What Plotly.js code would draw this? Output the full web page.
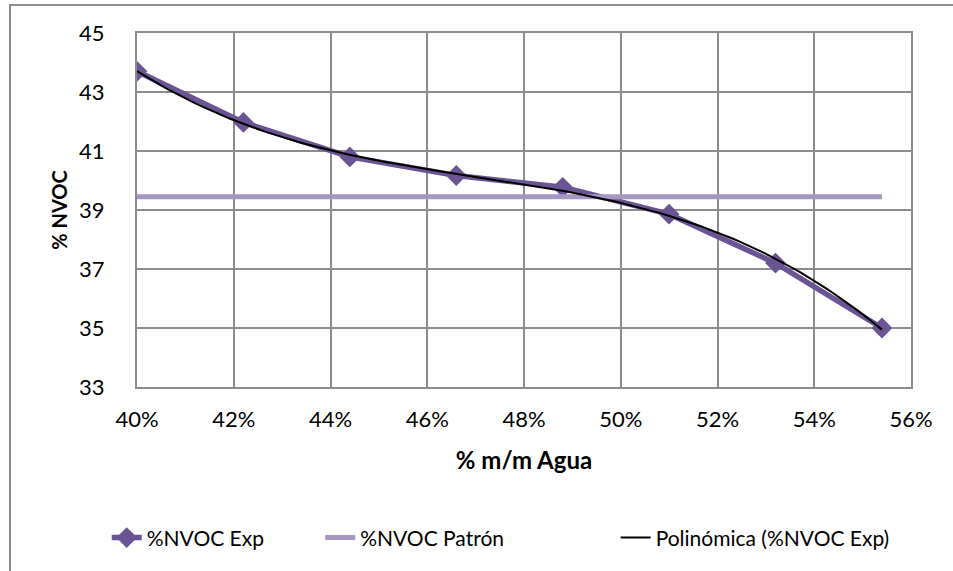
<!DOCTYPE html>
<html>
<head>
<meta charset="utf-8">
<script src="https://cdn.plot.ly/plotly-3.0.1.min.js"></script>
<style>
  html, body { margin: 0; padding: 0; background: #fff; overflow: hidden; }
  #frame { position: absolute; left: 9px; top: 4px; width: 1000px; height: 600px;
           border-left: 2px solid #8c8c8c; border-top: 2px solid #8c8c8c; pointer-events: none; }
  #chart { width: 953px; height: 571px; }
</style>
</head>
<body>
<div id="chart"></div>
<div id="frame"></div>
<script>
// Water content (mass fraction) and measured %NVOC
const aguaFrac = [0.400, 0.422, 0.444, 0.466, 0.488, 0.510, 0.532, 0.554];
const nvocExp  = [43.70, 41.97, 40.80, 40.17, 39.77, 38.86, 37.20, 35.00];
// Reference (standard) %NVOC value
const nvocPatron = 39.45;
const polyOrder = 3;

// Least-squares polynomial fit of the experimental series
function polyFit(xs, ys, order) {
  const n = order + 1;
  const A = Array.from({length: n}, () => new Array(n + 1).fill(0));
  for (let k = 0; k < xs.length; k++) {
    const pw = [];
    for (let i = 0; i < 2 * n; i++) pw.push(Math.pow(xs[k], i));
    for (let r = 0; r < n; r++) {
      for (let c = 0; c < n; c++) A[r][c] += pw[r + c];
      A[r][n] += ys[k] * pw[r];
    }
  }
  for (let i = 0; i < n; i++) {
    let p = i;
    for (let r = i + 1; r < n; r++) if (Math.abs(A[r][i]) > Math.abs(A[p][i])) p = r;
    [A[i], A[p]] = [A[p], A[i]];
    for (let r = 0; r < n; r++) {
      if (r === i) continue;
      const f = A[r][i] / A[i][i];
      for (let c = i; c <= n; c++) A[r][c] -= f * A[i][c];
    }
  }
  return A.map((row, i) => row[n] / row[i]);
}
const xMean = 0.477;
const coef = polyFit(aguaFrac.map(v => v - xMean), nvocExp, polyOrder);
const fitX = [], fitY = [];
const x0 = aguaFrac[0], x1 = aguaFrac[aguaFrac.length - 1];
for (let i = 0; i <= 120; i++) {
  const x = x0 + (x1 - x0) * i / 120;
  let y = 0;
  coef.forEach((c, j) => { y += c * Math.pow(x - xMean, j); });
  fitX.push(x); fitY.push(y);
}

const font = 'Lato, "Open Sans", "Liberation Sans", sans-serif';

const traces = [
  {
    x: aguaFrac, y: nvocExp, name: '%NVOC Exp', type: 'scatter', mode: 'lines+markers',
    line: {color: '#6a5493', width: 5.5},
    marker: {symbol: 'diamond', size: 16, color: '#6a5493'},
    legend: 'legend'
  },
  {
    x: [0.400, 0.554], y: [nvocPatron, nvocPatron], name: '%NVOC Patrón', type: 'scatter', mode: 'lines',
    line: {color: '#a596c2', width: 5},
    legend: 'legend2'
  },
  {
    x: fitX, y: fitY, name: 'Polinómica (%NVOC Exp)', type: 'scatter', mode: 'lines',
    line: {color: '#000000', width: 2},
    legend: 'legend3'
  }
];

function legendAt(xFrac) {
  return {orientation: 'h', xref: 'container', yref: 'container',
          x: xFrac, xanchor: 'left', y: 0.058, yanchor: 'middle',
          font: {family: font, size: 21}, bgcolor: 'rgba(0,0,0,0)'};
}

const layout = {
  width: 953, height: 571,
  margin: {l: 137, r: 42, t: 33, b: 184, autoexpand: false},
  paper_bgcolor: '#ffffff', plot_bgcolor: '#ffffff',
  font: {family: font, size: 21, color: '#000'},
  showlegend: true,
  legend: legendAt(0.112),
  legend2: legendAt(0.336),
  legend3: legendAt(0.646),
  xaxis: {
    range: [0.40, 0.56], dtick: 0.02, tick0: 0.40, tickformat: '.0%',
    showgrid: true, gridcolor: '#8c8c8c', gridwidth: 2,
    showline: true, linecolor: '#8c8c8c', linewidth: 2, mirror: true,
    zeroline: false, ticks: '', ticklabelstandoff: 12,
    tickfont: {family: font, size: 22},
    title: {text: '<b>% m/m Agua</b>', font: {family: font, size: 24}, standoff: 21}
  },
  yaxis: {
    range: [33, 45], dtick: 2, tick0: 33,
    showgrid: true, gridcolor: '#8c8c8c', gridwidth: 2,
    showline: true, linecolor: '#8c8c8c', linewidth: 2, mirror: true,
    zeroline: false, ticks: '', ticklabelstandoff: 26,
    tickfont: {family: font, size: 22},
    title: {text: '<b>% NVOC</b>', font: {family: font, size: 20}, standoff: 6}
  }
};

Plotly.newPlot('chart', traces, layout, {displayModeBar: false, staticPlot: true});
</script>
</body>
</html>
